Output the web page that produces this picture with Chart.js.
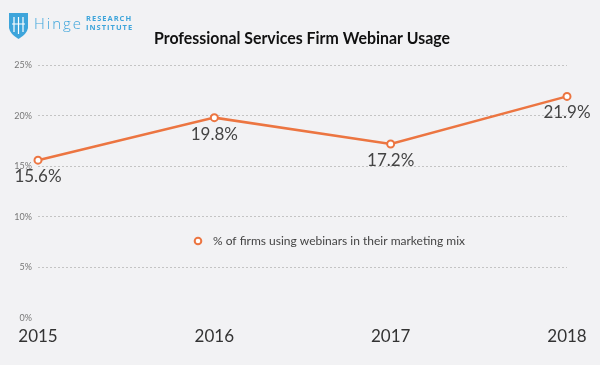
<!DOCTYPE html>
<html>
<head>
<meta charset="utf-8">
<script src="https://cdn.jsdelivr.net/npm/chart.js@4.4.1/dist/chart.umd.min.js"></script>
<style>
  html, body { margin: 0; padding: 0; background: #f2f2f4; }
  #wrap { width: 600px; height: 365px; position: relative; }
</style>
</head>
<body>
<div id="wrap"><canvas id="c" width="600" height="365"></canvas></div>
<script>
const categories = ['2015', '2016', '2017', '2018'];
const seriesLabel = '% of firms using webinars in their marketing mix';
const webinarUsage = [15.6, 19.8, 17.2, 21.9];
const yTicks = [0, 5, 10, 15, 20, 25];
const chartTitle = 'Professional Services Firm Webinar Usage';

const ORANGE = '#ec7541';

const bgPlugin = {
  id: 'bg',
  beforeDraw(chart) {
    const ctx = chart.ctx;
    ctx.save();
    ctx.fillStyle = '#f2f2f4';
    ctx.fillRect(0, 0, chart.width, chart.height);
    ctx.restore();
  }
};

const decorPlugin = {
  id: 'decor',
  afterDraw(chart) {
    const ctx = chart.ctx;
    ctx.save();
    // Logo shield
    const blue = '#3ea5db';
    ctx.fillStyle = blue;
    ctx.beginPath();
    ctx.moveTo(9, 13);
    ctx.lineTo(28, 13);
    ctx.lineTo(28, 28);
    ctx.quadraticCurveTo(27, 34, 18.5, 39);
    ctx.quadraticCurveTo(10, 34, 9, 28);
    ctx.closePath();
    ctx.fill();
    ctx.strokeStyle = '#ffffff';
    ctx.lineWidth = 1.2;
    ctx.beginPath();
    ctx.moveTo(14, 17); ctx.lineTo(14, 32);
    ctx.moveTo(18.5, 17); ctx.lineTo(18.5, 34);
    ctx.moveTo(23, 17); ctx.lineTo(23, 32);
    ctx.moveTo(12, 24); ctx.lineTo(25, 24);
    ctx.stroke();
    // Logo text
    ctx.fillStyle = blue;
    ctx.textBaseline = 'middle';
    ctx.textAlign = 'left';
    ctx.font = '300 15px "Open Sans", sans-serif';
    if ('letterSpacing' in ctx) ctx.letterSpacing = '2px';
    ctx.fillText('Hinge', 34, 25);
    if ('letterSpacing' in ctx) ctx.letterSpacing = '1px';
    ctx.font = 'bold 7.5px "Open Sans", sans-serif';
    ctx.fillText('RESEARCH', 86, 19);
    ctx.fillText('INSTITUTE', 86, 28);
    if ('letterSpacing' in ctx) ctx.letterSpacing = '0px';

    // Title
    ctx.fillStyle = '#111111';
    ctx.textAlign = 'center';
    ctx.font = 'bold 17px Lato, sans-serif';
    ctx.fillText(chartTitle, 302, 39, 296);

    // Legend
    const lx = 198, ly = 241;
    ctx.beginPath();
    ctx.arc(lx, ly, 3.3, 0, Math.PI * 2);
    ctx.fillStyle = '#ffffff';
    ctx.fill();
    ctx.lineWidth = 2;
    ctx.strokeStyle = ORANGE;
    ctx.stroke();
    ctx.fillStyle = '#444444';
    ctx.textAlign = 'left';
    ctx.font = '12px Lato, sans-serif';
    ctx.fillText(chart.data.datasets[0].label, 213, ly);

    // Data labels
    const meta = chart.getDatasetMeta(0);
    ctx.font = '17px Lato, sans-serif';
    ctx.fillStyle = '#444444';
    ctx.textAlign = 'center';
    meta.data.forEach((pt, i) => {
      const v = chart.data.datasets[0].data[i];
      ctx.fillText(v.toFixed(1) + '%', pt.x, pt.y + 16.5);
    });
    ctx.restore();
  }
};

new Chart(document.getElementById('c'), {
  type: 'line',
  data: {
    labels: categories,
    datasets: [{
      label: seriesLabel,
      data: webinarUsage,
      borderColor: ORANGE,
      borderWidth: 2.5,
      pointBackgroundColor: '#ffffff',
      pointBorderColor: ORANGE,
      pointBorderWidth: 2,
      pointRadius: 3.5,
      tension: 0,
      fill: false
    }]
  },
  options: {
    responsive: false,
    animation: false,
    devicePixelRatio: 1,
    layout: { padding: { left: 0, right: 33, top: 65, bottom: 10.5 } },
    plugins: {
      legend: { display: false },
      title: { display: false },
      tooltip: { enabled: false }
    },
    scales: {
      x: {
        offset: false,
        grid: { display: false, drawTicks: false },
        border: { display: false },
        ticks: {
          color: '#333333',
          font: { family: 'Lato', size: 17 },
          padding: 8,
          maxRotation: 0
        }
      },
      y: {
        min: 0,
        max: 25,
        afterBuildTicks(scale) { scale.ticks = yTicks.map(v => ({ value: v })); },
        afterFit(scale) { scale.width = 38; },
        grid: {
          drawTicks: false,
          color: ctx => (ctx.tick && ctx.tick.value === 0) ? 'rgba(0,0,0,0)' : '#c4c4c4',
          lineWidth: 1
        },
        border: { display: false, dash: [2, 2] },
        ticks: {
          color: '#777777',
          font: { family: 'Lato', size: 9 },
          padding: 6,
          callback: v => v + '%'
        }
      }
    }
  },
  plugins: [bgPlugin, decorPlugin]
});
</script>
</body>
</html>
